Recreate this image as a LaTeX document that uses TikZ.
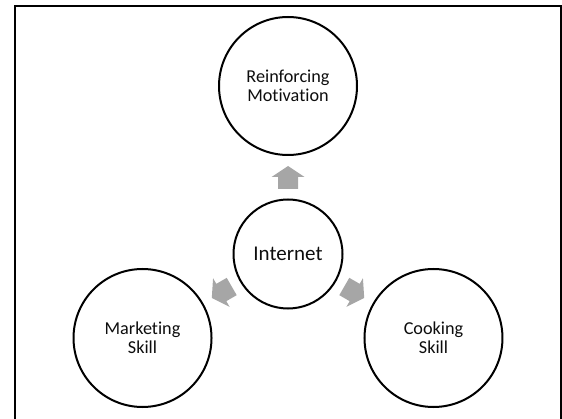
\documentclass[tikz,border=0pt]{standalone}
\usepackage{fontspec}
\setmainfont{Carlito}[Ligatures=NoCommon]
\usetikzlibrary{calc}
\definecolor{arrowgray}{HTML}{A6A6A6}
\definecolor{txt}{HTML}{0D0D0D}
\begin{document}
\begin{tikzpicture}[x=1pt,y=1pt,
  outer/.style={circle,draw=black,line width=2pt,minimum size=138pt,inner sep=0pt,
    align=center,font=\fontsize{18.2}{19}\selectfont,text=txt},
  inner/.style={circle,draw=black,line width=2pt,minimum size=109pt,inner sep=0pt,
    align=center,font=\fontsize{21}{25}\selectfont,text=txt},
  blockarrow/.style={fill=arrowgray,draw=none}]
\useasboundingbox (0,0) rectangle (562,418);
\begin{scope}
\clip (0,0) rectangle (562,418);
\draw[line width=2pt] (15,-10) -- (15,412) -- (561,412) -- (561,-10);
\end{scope}
\node[inner] (I) at (288,164) {Internet};
\node[outer] (T) at ($(I.center)+(90:168)$) {Reinforcing\\Motivation};
\node[outer] (L) at ($(I.center)+(210:168)$) {Marketing\\Skill};
\node[outer] (R) at ($(I.center)+(330:168)$) {Cooking\\Skill};
\foreach \a in {90,210,330}{
  \fill[blockarrow,shift={(I.center)},rotate=\a]
    (65,-10) -- (77,-10) -- (77,-16.5) -- (88,0) -- (77,16.5) -- (77,10) -- (65,10) -- cycle;
}
\end{tikzpicture}
\end{document}
